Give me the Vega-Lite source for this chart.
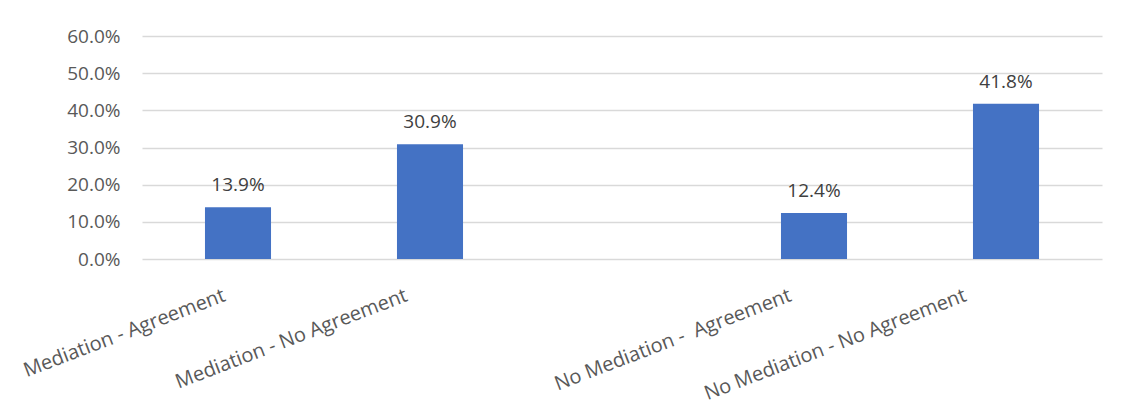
{
  "$schema": "https://vega.github.io/schema/vega-lite/v6.json",
  "width": 960,
  "height": 223,
  "autosize": "none",
  "padding": {"left": 142, "top": 36, "right": 19, "bottom": 158},
  "background": "white",
  "config": {
    "view": {"stroke": null},
    "font": "Open Sans"
  },
  "data": {
    "values": [
      {"category": "Mediation - Agreement", "share": 0.139},
      {"category": "Mediation - No Agreement", "share": 0.309},
      {"category": "No Mediation -  Agreement", "share": 0.124},
      {"category": "No Mediation - No Agreement", "share": 0.418}
    ]
  },
  "encoding": {
    "x": {
      "field": "category",
      "type": "nominal",
      "sort": null,
      "scale": {
        "domain": ["Mediation - Agreement", "Mediation - No Agreement", " ", "No Mediation -  Agreement", "No Mediation - No Agreement"],
        "paddingInner": 0.656,
        "paddingOuter": 0.328
      },
      "axis": {
        "title": null,
        "domain": false,
        "ticks": false,
        "labelAngle": -21,
        "labelAlign": "right",
        "labelBaseline": "top",
        "labelPadding": 26,
        "labelOffset": {
          "condition": [
            {"test": "datum.value == 'Mediation - Agreement'", "value": -17},
            {"test": "datum.value == 'No Mediation - No Agreement'", "value": -44}
          ],
          "value": -27
        },
        "labelExpr": "replace(datum.label, '  ', ' \u00a0')",
        "labelFontSize": 20,
        "labelColor": "#595959",
        "labelFont": "Open Sans",
        "labelLimit": 400
      }
    },
    "y": {
      "field": "share",
      "type": "quantitative",
      "scale": {"domain": [0, 0.6], "nice": false},
      "axis": {
        "title": null,
        "format": ".1%",
        "values": [0, 0.1, 0.2, 0.3, 0.4, 0.5, 0.6],
        "domain": false,
        "ticks": false,
        "gridColor": "#D9D9D9",
        "gridWidth": 1.3,
        "labelFontSize": 19,
        "labelColor": "#595959",
        "labelFont": "Open Sans",
        "labelPadding": 22
      }
    }
  },
  "layer": [
    {"mark": {"type": "bar", "color": "#4472C4"}},
    {
      "mark": {"type": "text", "baseline": "bottom", "dy": -12, "fontSize": 19, "color": "#404040", "font": "Open Sans"},
      "encoding": {"text": {"field": "share", "type": "quantitative", "format": ".1%"}}
    }
  ]
}
